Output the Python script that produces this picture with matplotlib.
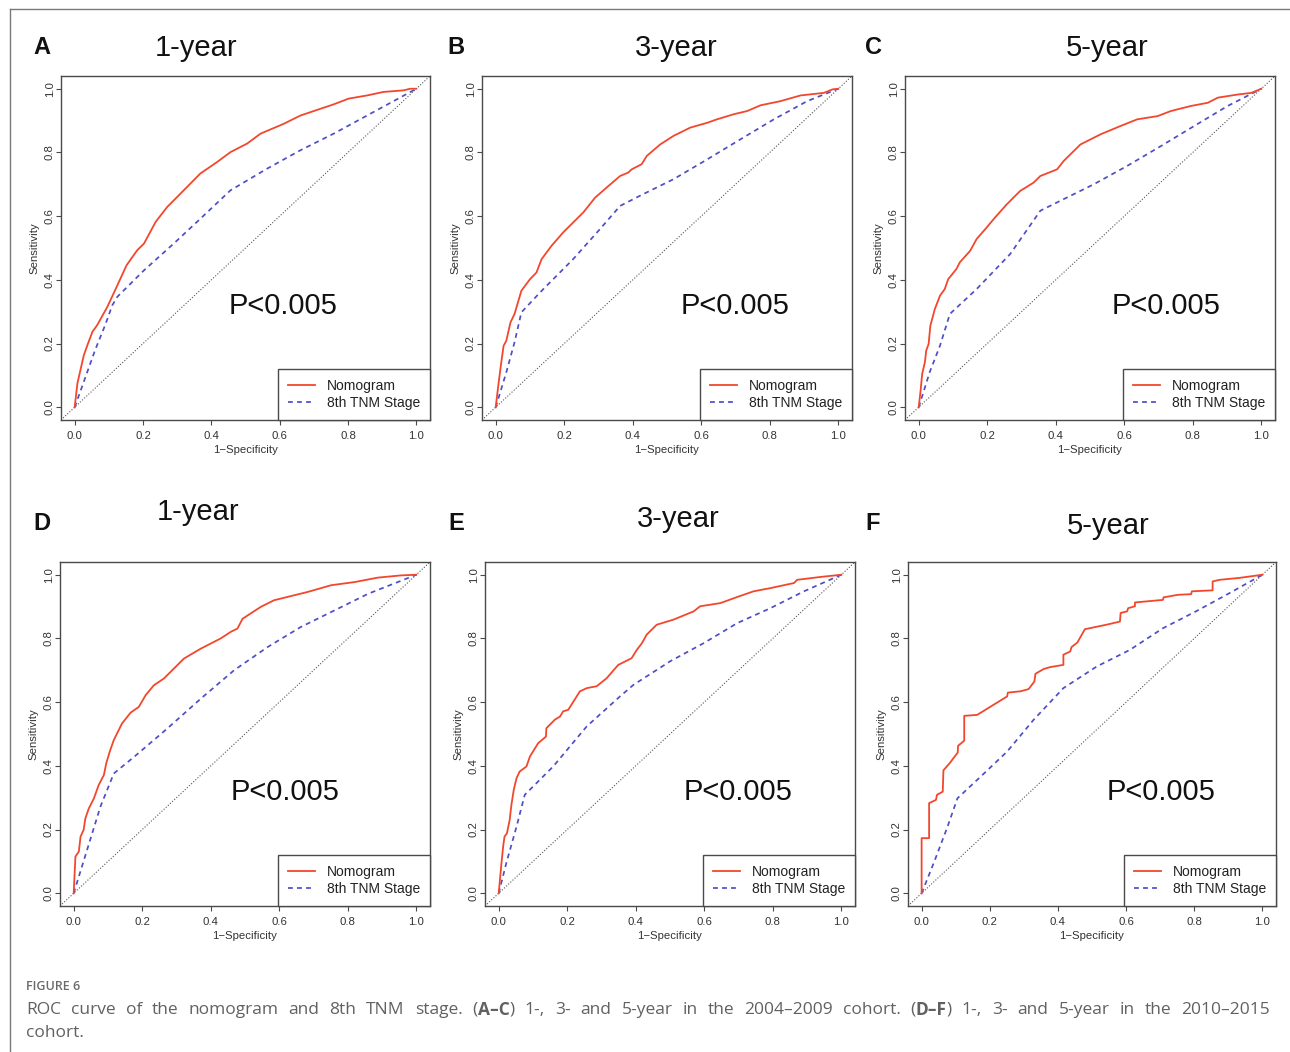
import matplotlib
matplotlib.use("Agg")
from matplotlib import pyplot as plt
from matplotlib.lines import Line2D

# ---- data (1 - specificity, sensitivity) ----
panel_letters = ["A", "B", "C", "D", "E", "F"]
panel_titles = ["1-year", "3-year", "5-year", "1-year", "3-year", "5-year"]
legend_labels = ["Nomogram", "8th TNM Stage"]
p_label = "P<0.005"
tick_values = [0.0, 0.2, 0.4, 0.6, 0.8, 1.0]
tick_labels = ["0.0", "0.2", "0.4", "0.6", "0.8", "1.0"]

nomo_a_x = [0, 0.008, 0.018, 0.027, 0.039, 0.052, 0.066, 0.096, 0.125, 0.152, 0.183, 0.203, 0.237, 0.271,
            0.31, 0.368, 0.417, 0.456, 0.505, 0.544, 0.612, 0.661, 0.719, 0.758, 0.802, 0.856, 0.904,
            0.963, 0.982, 1.0]
nomo_a_y = [0, 0.075, 0.122, 0.164, 0.2, 0.237, 0.258, 0.316, 0.383, 0.446, 0.493, 0.514, 0.582, 0.629,
            0.671, 0.734, 0.77, 0.801, 0.828, 0.859, 0.89, 0.916, 0.937, 0.951, 0.969, 0.979, 0.99,
            0.995, 1.0, 1.0]
tnm_a_x = [0, 0.03, 0.06, 0.09, 0.11, 0.125, 0.203, 0.29, 0.368, 0.456, 0.563, 0.661, 0.758, 0.856, 1.0]
tnm_a_y = [0, 0.09, 0.18, 0.26, 0.32, 0.347, 0.43, 0.514, 0.592, 0.681, 0.749, 0.807, 0.859, 0.916, 1.0]

nomo_b_x = [0, 0.007, 0.015, 0.023, 0.031, 0.043, 0.055, 0.075, 0.1, 0.119, 0.134, 0.163, 0.197, 0.226,
            0.256, 0.29, 0.324, 0.363, 0.387, 0.397, 0.426, 0.441, 0.48, 0.519, 0.568, 0.617, 0.646,
            0.695, 0.734, 0.773, 0.831, 0.89, 0.958, 0.983, 1.0]
nomo_b_y = [0, 0.063, 0.131, 0.193, 0.209, 0.266, 0.293, 0.366, 0.402, 0.423, 0.465, 0.507, 0.549, 0.58,
            0.612, 0.658, 0.69, 0.726, 0.737, 0.747, 0.763, 0.789, 0.825, 0.852, 0.878, 0.893, 0.904,
            0.92, 0.93, 0.948, 0.961, 0.979, 0.987, 0.998, 1.0]
tnm_b_x = [0, 0.031, 0.055, 0.075, 0.129, 0.226, 0.304, 0.363, 0.421, 0.519, 0.617, 0.714, 0.812, 0.909, 1.0]
tnm_b_y = [0, 0.11, 0.204, 0.298, 0.36, 0.465, 0.559, 0.632, 0.664, 0.716, 0.778, 0.841, 0.904, 0.961, 1.0]

nomo_c_x = [0, 0.006, 0.01, 0.018, 0.022, 0.029, 0.034, 0.047, 0.062, 0.076, 0.086, 0.11, 0.12, 0.15,
            0.169, 0.198, 0.223, 0.257, 0.296, 0.335, 0.355, 0.404, 0.423, 0.472, 0.531, 0.589, 0.638,
            0.697, 0.736, 0.795, 0.844, 0.873, 0.932, 0.971, 1.0]
nomo_c_y = [0, 0.057, 0.104, 0.141, 0.178, 0.199, 0.256, 0.308, 0.35, 0.371, 0.402, 0.434, 0.455, 0.491,
            0.528, 0.564, 0.596, 0.637, 0.679, 0.705, 0.726, 0.747, 0.773, 0.825, 0.857, 0.883, 0.904,
            0.914, 0.93, 0.946, 0.956, 0.972, 0.982, 0.987, 1.0]
tnm_c_x = [0, 0.032, 0.062, 0.091, 0.169, 0.267, 0.355, 0.413, 0.511, 0.609, 0.707, 0.804, 0.902, 1.0]
tnm_c_y = [0, 0.11, 0.193, 0.293, 0.371, 0.481, 0.617, 0.648, 0.7, 0.758, 0.82, 0.883, 0.946, 1.0]

nomo_d_x = [0, 0.005, 0.015, 0.02, 0.029, 0.034, 0.044, 0.059, 0.073, 0.088, 0.095, 0.105, 0.117, 0.141,
            0.166, 0.19, 0.21, 0.234, 0.263, 0.322, 0.371, 0.429, 0.459, 0.478, 0.493, 0.546, 0.585,
            0.634, 0.683, 0.751, 0.82, 0.888, 0.956, 1.0]
nomo_d_y = [0, 0.115, 0.131, 0.178, 0.199, 0.235, 0.266, 0.298, 0.34, 0.371, 0.408, 0.444, 0.481, 0.533,
            0.567, 0.585, 0.622, 0.653, 0.674, 0.737, 0.768, 0.8, 0.821, 0.831, 0.862, 0.899, 0.92,
            0.933, 0.946, 0.967, 0.977, 0.991, 0.998, 1.0]
tnm_d_x = [0, 0.039, 0.078, 0.117, 0.176, 0.273, 0.371, 0.468, 0.566, 0.663, 0.761, 0.859, 1.0]
tnm_d_y = [0, 0.136, 0.272, 0.376, 0.428, 0.517, 0.611, 0.7, 0.773, 0.836, 0.888, 0.94, 1.0]

nomo_e_x = [0, 0.008, 0.013, 0.017, 0.024, 0.032, 0.037, 0.044, 0.052, 0.061, 0.081, 0.091, 0.115, 0.138,
            0.139, 0.164, 0.179, 0.188, 0.203, 0.237, 0.257, 0.286, 0.315, 0.349, 0.388, 0.403, 0.418,
            0.432, 0.461, 0.51, 0.569, 0.588, 0.647, 0.696, 0.744, 0.793, 0.862, 0.871, 0.939, 1.0]
nomo_e_y = [0, 0.094, 0.147, 0.178, 0.188, 0.23, 0.277, 0.325, 0.361, 0.382, 0.398, 0.429, 0.471, 0.492,
            0.518, 0.545, 0.555, 0.571, 0.576, 0.634, 0.644, 0.65, 0.675, 0.717, 0.738, 0.764, 0.785,
            0.812, 0.843, 0.859, 0.885, 0.901, 0.911, 0.93, 0.948, 0.958, 0.974, 0.984, 0.993, 1.0]
tnm_e_x = [0, 0.022, 0.052, 0.076, 0.159, 0.257, 0.354, 0.393, 0.5, 0.598, 0.696, 0.793, 0.891, 1.0]
tnm_e_y = [0, 0.094, 0.209, 0.309, 0.398, 0.524, 0.618, 0.654, 0.728, 0.785, 0.848, 0.895, 0.948, 1.0]

nomo_f_x = [0, 0, 0.022, 0.022, 0.042, 0.045, 0.062, 0.064, 0.082, 0.106, 0.107, 0.125, 0.125, 0.163,
            0.251, 0.253, 0.29, 0.314, 0.331, 0.334, 0.358, 0.377, 0.416, 0.416, 0.436, 0.44, 0.457,
            0.479, 0.542, 0.582, 0.584, 0.603, 0.606, 0.626, 0.626, 0.708, 0.71, 0.752, 0.791, 0.793,
            0.854, 0.854, 0.874, 0.932, 1.0]
nomo_f_y = [0, 0.173, 0.173, 0.283, 0.293, 0.309, 0.319, 0.386, 0.408, 0.442, 0.463, 0.479, 0.557, 0.56,
            0.618, 0.63, 0.634, 0.641, 0.665, 0.689, 0.704, 0.71, 0.717, 0.749, 0.759, 0.773, 0.787,
            0.829, 0.843, 0.853, 0.88, 0.885, 0.895, 0.901, 0.913, 0.921, 0.929, 0.937, 0.939, 0.948,
            0.951, 0.979, 0.984, 0.99, 1.0]
tnm_f_x = [0, 0.037, 0.076, 0.105, 0.173, 0.251, 0.329, 0.416, 0.514, 0.611, 0.708, 0.805, 0.903, 1.0]
tnm_f_y = [0, 0.099, 0.209, 0.298, 0.366, 0.445, 0.545, 0.644, 0.712, 0.764, 0.832, 0.885, 0.942, 1.0]

nomo_curves = [(nomo_a_x, nomo_a_y), (nomo_b_x, nomo_b_y), (nomo_c_x, nomo_c_y),
               (nomo_d_x, nomo_d_y), (nomo_e_x, nomo_e_y), (nomo_f_x, nomo_f_y)]
tnm_curves = [(tnm_a_x, tnm_a_y), (tnm_b_x, tnm_b_y), (tnm_c_x, tnm_c_y),
              (tnm_d_x, tnm_d_y), (tnm_e_x, tnm_e_y), (tnm_f_x, tnm_f_y)]

caption_head = "FIGURE 6"
caption_line1 = ("ROC curve of the nomogram and 8th TNM stage. (A\u2013C) 1-, 3- and 5-year in the "
                 "2004\u20132009 cohort. (D\u2013F) 1-, 3- and 5-year in the 2010\u20132015")
caption_line2 = "cohort."

# ---- layout (pixels in a 1290 x 1052 canvas) ----
W, H = 1290, 1052
axes_px = [(61, 76, 369, 344), (482, 76, 370, 344), (905, 76, 370, 344),
           (60, 562, 370, 344), (485, 562, 370, 344), (908, 562, 368, 344)]
letter_px = [(42, 48), (456, 48), (873, 48), (42, 523), (456, 523), (873, 523)]
title_px = [(196, 48), (676, 48), (1107, 48), (198, 512), (678, 519), (1108, 526)]
p_pos = [(0.61, 0.318), (0.70, 0.318), (0.723, 0.318), (0.617, 0.318), (0.698, 0.318), (0.702, 0.317)]

RED = "#F2472D"
BLUE = "#4E4EC6"
SPINE = "#4a4a4a"
FONT = "Liberation Sans"

plt.rcParams["font.family"] = [FONT, "DejaVu Sans"]

fig = plt.figure(figsize=(W / 100, H / 100), dpi=100)

# thin frame around the figure panel (top and left edges visible)
fig.add_artist(Line2D([10 / W, 1.0], [1 - 9 / H, 1 - 9 / H], transform=fig.transFigure,
                      color="#7a7a7a", lw=1.0))
fig.add_artist(Line2D([10 / W, 10 / W], [0, 1 - 9 / H], transform=fig.transFigure,
                      color="#7a7a7a", lw=1.0))

for i in range(6):
    left, top, w, h = axes_px[i]
    ax = fig.add_axes([left / W, 1 - (top + h) / H, w / W, h / H])
    ax.set_xlim(-0.04, 1.04)
    ax.set_ylim(-0.04, 1.04)

    ax.plot([-0.04, 1.04], [-0.04, 1.04], color="#555555", lw=0.8, dashes=(1, 1.6), zorder=1)
    tx, ty = tnm_curves[i]
    ax.plot(tx, ty, color=BLUE, lw=1.25, dashes=(2.8, 2.4), label=legend_labels[1], zorder=2)
    nx, ny = nomo_curves[i]
    ax.plot(nx, ny, color=RED, lw=1.3, label=legend_labels[0], zorder=3)

    ax.text(p_pos[i][0], p_pos[i][1], p_label, fontsize=21, ha="center", va="center", color="#111111")

    ax.set_xticks(tick_values)
    ax.set_xticklabels(tick_labels)
    ax.set_yticks(tick_values)
    ax.set_yticklabels(tick_labels, rotation=90, va="center")
    ax.tick_params(direction="out", length=3.6, width=0.8, color=SPINE, labelsize=8.2,
                   labelcolor="#333333")
    ax.tick_params(axis="x", pad=4)
    ax.tick_params(axis="y", pad=1)
    ax.set_xlabel("1\u2212Specificity", fontsize=8.2, color="#333333", labelpad=3)
    ax.set_ylabel("Sensitivity", fontsize=8.2, color="#333333", labelpad=4)
    for sp in ax.spines.values():
        sp.set_color(SPINE)
        sp.set_linewidth(1.0)

    handles, labels = ax.get_legend_handles_labels()
    order = [labels.index(legend_labels[0]), labels.index(legend_labels[1])]
    leg = ax.legend([handles[k] for k in order], [labels[k] for k in order], loc="lower right",
                    borderaxespad=0, fancybox=False, framealpha=1, edgecolor=SPINE,
                    fontsize=10, handlelength=1.9, handletextpad=0.9, borderpad=0.7,
                    labelspacing=0.25)
    leg.get_frame().set_linewidth(1.0)
    for t in leg.get_texts():
        t.set_color("#222222")

    fig.text(letter_px[i][0] / W, 1 - letter_px[i][1] / H, panel_letters[i], fontsize=17,
             fontweight="bold", ha="center", va="center", color="#111111")
    fig.text(title_px[i][0] / W, 1 - title_px[i][1] / H, panel_titles[i], fontsize=21,
             ha="center", va="center", color="#111111")

# ---- caption ----
CAP_FONT = ["Open Sans", "DejaVu Sans"]
CAP_SIZE = 12.5
fig.text(26 / W, 1 - 986 / H, caption_head, fontsize=9, family=CAP_FONT, color="#6b6b6b",
         fontweight="semibold", ha="left", va="center")

renderer = fig.canvas.get_renderer()


def word_pieces(word):
    if word.startswith("(") and word.endswith(")") and "\u2013" in word:
        return [("(", "normal"), (word[1:-1], "bold"), (")", "normal")]
    return [(word, "normal")]


def text_width(s):
    t = fig.text(0, 0, s, fontsize=CAP_SIZE, family=CAP_FONT)
    wdt = t.get_window_extent(renderer).width
    t.remove()
    return wdt


def place_line(text, y_px, x0_px, x1_px, justify):
    words = text.split()
    made = []
    widths = []
    for word in words:
        parts = []
        wsum = 0
        for piece, weight in word_pieces(word):
            t = fig.text(0, 1 - y_px / H, piece, fontsize=CAP_SIZE, family=CAP_FONT, color="#616161",
                         fontweight=weight, ha="left", va="center")
            pw = t.get_window_extent(renderer).width
            parts.append((t, wsum))
            wsum += pw
        made.append(parts)
        widths.append(wsum)
    sp_w = text_width("a b") - text_width("ab")
    if justify and len(words) > 1:
        gap = (x1_px - x0_px - sum(widths)) / (len(words) - 1)
    else:
        gap = sp_w
    x = x0_px
    for parts, wsum in zip(made, widths):
        for t, off in parts:
            t.set_x((x + off) / W)
        x += wsum + gap


place_line(caption_line1, 1010, 26, 1270, True)
place_line(caption_line2, 1033, 26, 1270, False)

fig.savefig("out.png", dpi=100)
